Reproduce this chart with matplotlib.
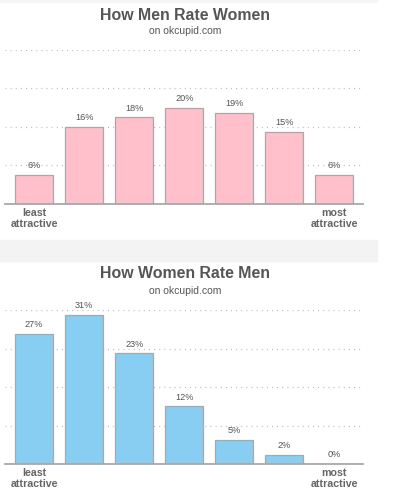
import matplotlib
matplotlib.use("Agg")
import matplotlib.pyplot as plt
from matplotlib.patches import Rectangle

ratings = list(range(7))
men_rate_women = [6, 16, 18, 20, 19, 15, 6]
women_rate_men = [27, 31, 23, 12, 5, 2, 0]
tick_labels = ["least\nattractive", "", "", "", "", "", "most\nattractive"]
titles = ["How Men Rate Women", "How Women Rate Men"]
subtitle = "on okcupid.com"
grid_ticks = [8, 16, 24, 32]

plt.rcParams['font.family'] = ['Liberation Sans', 'DejaVu Sans']

W, H = 400, 493
fig = plt.figure(figsize=(W / 100, H / 100), dpi=100)

def fx(px):
    return px / W

def fy(py):
    return 1 - py / H

# separator band and top strip
fig.patches.append(Rectangle((0, fy(261)), fx(377), (261 - 240) / H,
                             transform=fig.transFigure, color='#f3f3f3', zorder=0))
fig.patches.append(Rectangle((0, fy(2)), fx(377), 2 / H,
                             transform=fig.transFigure, color='#f5f5f5', zorder=0))

panels = [
    (men_rate_women, '#ffc0cb', 204, 50, 15, 31),
    (women_rate_men, '#87cef2', 464.3, 310, 274, 291),
]

for i, (vals, color, base_px, top_px, t_px, s_px) in enumerate(panels):
    ax = fig.add_axes([fx(5), fy(base_px), fx(363 - 5), (base_px - top_px) / H])
    ax.set_facecolor('none')
    ax.bar(ratings, vals, width=0.76, color=color, edgecolor='#a8a8a8',
           linewidth=0.9, zorder=2)
    for x, v in zip(ratings, vals):
        ax.annotate(f"{v}%", (x, v), xytext=(0, 3.5), textcoords='offset points',
                    ha='center', va='bottom', fontsize=6.6, color='#555555', zorder=3)
    ax.set_xlim(-0.58, 6.57)
    ax.set_ylim(0, 32)
    ax.set_yticks(grid_ticks)
    ax.yaxis.grid(True, color='#b8b8b8', linestyle=(0, (0.8, 3.3)), linewidth=0.9)
    ax.set_axisbelow(True)
    ax.tick_params(axis='y', left=False, labelleft=False)
    ax.set_xticks(ratings)
    ax.set_xticklabels(tick_labels, fontsize=7.7, fontweight='bold', color='#666666',
                       linespacing=1.1)
    ax.tick_params(axis='x', length=0, pad=3)
    for s in ['top', 'left', 'right']:
        ax.spines[s].set_visible(False)
    ax.spines['bottom'].set_color('#a8a8a8')
    ax.spines['bottom'].set_linewidth(1.3)
    ax.spines['bottom'].set_zorder(4)
    fig.text(fx(185), fy(t_px), titles[i], ha='center', va='center', fontsize=11.4,
             fontweight='bold', color='#555555')
    fig.text(fx(185), fy(s_px), subtitle, ha='center', va='center', fontsize=7.5,
             color='#555555')

fig.savefig("out.png", dpi=100)
